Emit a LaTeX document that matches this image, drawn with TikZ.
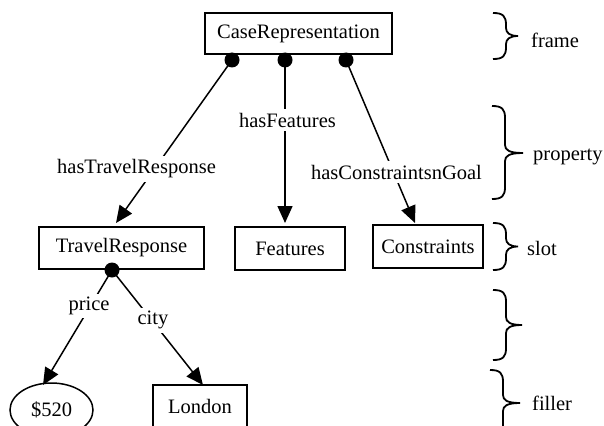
\documentclass[tikz,border=0pt]{standalone}
\usepackage{fontspec}
\setmainfont{Liberation Serif}
\usetikzlibrary{arrows.meta,shapes.geometric}
\newcommand\fs{\fontsize{20.5}{24}\selectfont}
\newcommand\mybrace[5]{%
  \draw[brc] (#1,#2) .. controls (#1+10,#2) and (#1+13,#2+3) .. (#1+13,#2+12)
    -- (#1+13,#3-8) .. controls (#1+13,#3-3) and (#1+17,#3) .. (#5,#3)
    .. controls (#1+17,#3) and (#1+13,#3+3) .. (#1+13,#3+8)
    -- (#1+13,#4-12) .. controls (#1+13,#4-3) and (#1+10,#4) .. (#1,#4);}
\tikzset{
  box/.style={draw, line width=1.5pt, inner sep=0pt, font=\fs},
  oval/.style={draw, ellipse, line width=1.5pt, inner sep=0pt, font=\fs},
  lbl/.style={fill=white, inner sep=3.5pt, font=\fs},
  side/.style={anchor=west, inner sep=0pt, font=\fs},
  dotn/.style={circle, fill=black, inner sep=0pt, minimum size=15pt},
  arr/.style={line width=1.5pt, -{Triangle[length=17pt,width=15pt]}},
  brc/.style={line width=1.8pt},
}
\begin{document}
\begin{tikzpicture}[x=1pt,y=-1pt]
\useasboundingbox (0,0) rectangle (604,425);
% boxes
\node[box, minimum width=187pt, minimum height=41pt] (CR) at (298.5,33.5) {CaseRepresentation};
\node[box, minimum width=165pt, minimum height=42pt] (TR) at (121.5,248) {TravelResponse};
\node[box, minimum width=110pt, minimum height=43pt] (FE) at (290,248.5) {Features};
\node[box, minimum width=110pt, minimum height=43pt] (CO) at (428,246.5) {Constraints};
\node[oval, minimum width=83pt, minimum height=54pt] (PR) at (51.5,410) {\$520};
\node[box, minimum width=94pt, minimum height=42pt] (LO) at (200,406) {London};
% dots
\node[dotn] (d1) at (232,60) {};
\node[dotn] (d2) at (285,60) {};
\node[dotn] (d3) at (346,60) {};
\node[dotn] (d4) at (112,270) {};
% arrow ends
\coordinate (t1) at (116,223);
\coordinate (t2) at (285,223);
\coordinate (t3) at (415,223);
\coordinate (t4) at (43,385);
\coordinate (t5) at (203,385);
% connectors
\draw[arr] (d1.center) -- (t1);
\draw[arr] (d2.center) -- (t2);
\draw[arr] (d3.center) -- (t3);
\draw[arr] (d4.center) -- (t4);
\draw[arr] (d4.center) -- (t5);
% labels
\node[lbl] (l1) at (136.5,169) {hasTravelResponse};
\node[lbl] (l2) at (287.5,120) {hasFeatures};
\node[lbl] (l3) at (396.5,172) {hasConstraintsnGoal};
\node[lbl] (l4) at (89,306) {price};
\node[lbl] (l5) at (153,320) {city};
% braces
\mybrace{493}{13}{36}{59}{518}
\mybrace{492}{106}{153}{199}{523}
\mybrace{493}{223}{246.5}{270}{518}
\mybrace{493}{290}{325}{360}{522}
\mybrace{490}{370}{403}{436}{520}
% side labels
\node[side] (s1) at (531,40) {frame};
\node[side] (s2) at (533,157) {property};
\node[side] (s3) at (527,248) {slot};
\node[side] (s4) at (532,403) {filler};
\end{tikzpicture}
\end{document}
